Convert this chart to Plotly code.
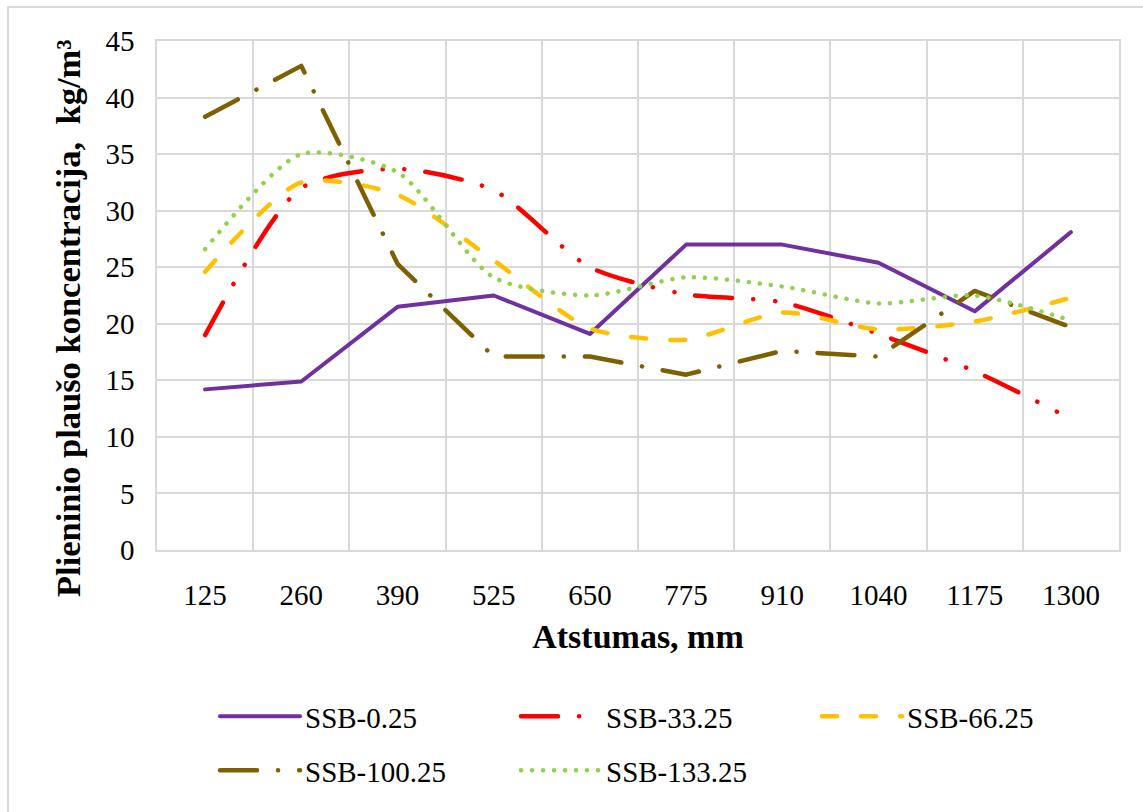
import plotly.graph_objects as go

# Distance along the specimen (mm), used as category labels
distances = ["125", "260", "390", "525", "650", "775", "910", "1040", "1175", "1300"]

# Steel fibre concentration, kg/m3, per series
ssb_0_25 = [14.2, 14.9, 21.5, 22.5, 19.1, 27.0, 27.0, 25.4, 21.1, 28.1]
ssb_33_25 = [19.0, 32.0, 33.7, 31.8, 25.0, 22.6, 21.9, 19.1, 15.8, 11.6]
ssb_66_25 = [24.6, 32.5, 31.4, 25.6, 19.6, 18.6, 21.0, 19.5, 20.2, 22.3]
ssb_100_25 = [38.3, 42.8, 25.3, 17.1, 17.1, 15.5, 17.6, 17.1, 22.9, 19.7]
ssb_133_25 = [26.6, 35.0, 33.4, 24.1, 22.5, 24.1, 23.3, 21.8, 22.5, 20.3]

series_names = ["SSB-0.25", "SSB-33.25", "SSB-66.25", "SSB-100.25", "SSB-133.25"]
series_values = [ssb_0_25, ssb_33_25, ssb_66_25, ssb_100_25, ssb_133_25]

y_title = "<b>Plieninio plaušo koncentracija,  kg/m³</b>"
x_title = "<b>Atstumas, mm</b>"

styles = [
    dict(color="#7030A0", width=4, dash="solid", shape="linear", legend="legend"),
    dict(color="#FF0000", width=4.5, dash="37px,21px,0.1px,22px,0.1px,21px", shape="spline", legend="legend"),
    dict(color="#FFC000", width=4.5, dash="15px,24px", shape="spline", legend="legend"),
    dict(color="#7F6000", width=4.5, dash="37px,21px,0.1px,21px", shape="linear", legend="legend2"),
    dict(color="#92D050", width=4.5, dash="0.1px,10.9px", shape="spline", legend="legend2"),
]

FONT = "Liberation Serif, Times New Roman, serif"
GRID = "#d9d9d9"
TICK_SIZE = 29

fig = go.Figure()
for name, vals, st in zip(series_names, series_values, styles):
    fig.add_trace(go.Scatter(
        x=distances, y=vals, name=name, mode="lines", legend=st["legend"],
        line=dict(color=st["color"], width=st["width"], dash=st["dash"],
                  shape=st["shape"], smoothing=0.7 if st["shape"] == "spline" else None),
        hoverinfo="x+y+name",
    ))

legend_common = dict(
    orientation="h", xanchor="left", yanchor="top",
    font=dict(family=FONT, size=TICK_SIZE, color="black"),
    itemwidth=80, entrywidth=206, entrywidthmode="pixels",
    itemclick=False, itemdoubleclick=False, bgcolor="rgba(0,0,0,0)",
)

fig.update_layout(
    width=1143, height=812,
    margin=dict(l=157, r=24, t=41, b=262, autoexpand=False),
    paper_bgcolor="white", plot_bgcolor="white",
    font=dict(family=FONT, size=TICK_SIZE, color="black"),
    showlegend=True,
    legend=dict(x=(215 - 157) / 962, y=(550 - 691) / 509, **legend_common),
    legend2=dict(x=(215 - 157) / 962, y=(550 - 745) / 509, **legend_common),
    xaxis=dict(
        type="category", tickson="boundaries", range=[-0.5, 9.5], automargin=False,
        showgrid=True, gridcolor=GRID, gridwidth=1.5,
        showline=True, linecolor=GRID, linewidth=1.5, mirror=True,
        ticks="", ticklabelstandoff=18,
        tickfont=dict(family=FONT, size=TICK_SIZE),
        title=dict(text=x_title, font=dict(family=FONT, size=34), standoff=15),
    ),
    yaxis=dict(
        range=[0, 45], dtick=5, tick0=0, automargin=False,
        showgrid=True, gridcolor=GRID, gridwidth=1.5,
        showline=True, linecolor=GRID, linewidth=1.5, mirror=True,
        zeroline=False, ticks="", ticklabelstandoff=15,
        tickfont=dict(family=FONT, size=TICK_SIZE),
    ),
    annotations=[dict(
        text=y_title, textangle=-90, showarrow=False,
        xref="paper", yref="paper",
        x=(68 - 157) / 962, y=(550 - 318) / 509,
        xanchor="center", yanchor="middle",
        font=dict(family=FONT, size=34.5, color="black"),
    )],
    shapes=[dict(
        type="rect", xref="paper", yref="paper",
        x0=(8 - 157) / 962, x1=(1160 - 157) / 962,
        y0=(550 - 830) / 509, y1=(550 - 7) / 509,
        line=dict(color=GRID, width=2), fillcolor="rgba(0,0,0,0)", layer="below",
    )],
)

# Round line caps give the dotted and dash-dot series their rounded ends.
post = """
var css = document.createElement('style');
css.textContent = 'path.js-line { stroke-linecap: round; stroke-linejoin: round; }';
document.head.appendChild(css);
"""

fig.write_html("out.html", post_script=post)
